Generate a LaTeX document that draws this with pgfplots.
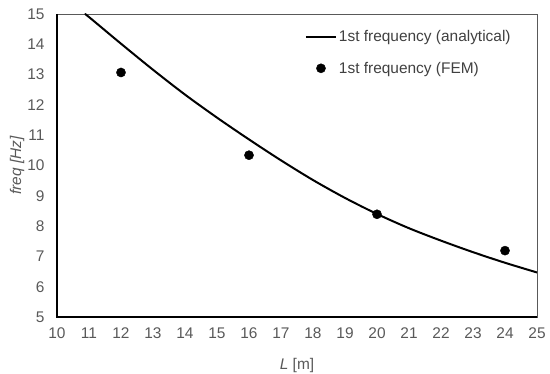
\documentclass[border=0pt]{standalone}
\usepackage{pgfplots}
\pgfplotsset{compat=1.18}
\usepackage{fontspec}
\setmainfont{Liberation Sans}
\definecolor{tickgray}{HTML}{595959}
\definecolor{framegray}{HTML}{595959}
\definecolor{leggray}{HTML}{404040}
\begin{document}
\begin{tikzpicture}
\useasboundingbox (-57bp,-57bp) rectangle (493bp,317bp);
\begin{axis}[
 name=ax,
 at={(0,0)}, anchor=south west,
 scale only axis, width=480bp, height=303bp,
 xmin=10, xmax=25, ymin=5, ymax=15,
 xtick={10,11,...,25}, ytick={5,6,...,15},
 major tick length=0pt,
 tick style={draw=none},
 axis line style={draw=framegray, line width=0.9pt},
 ticklabel style={font=\fontsize{15.5}{18}\selectfont, text=tickgray},
 xticklabel style={yshift=-7bp},
 yticklabel style={xshift=-9bp},
 /pgf/number format/assume math mode=true,
 xlabel={\textit{L} [m]}, ylabel={\textit{freq [Hz]}},
 xlabel style={at={(axis description cs:0.5,-0.16)}, anchor=center},
 ylabel style={at={(axis description cs:-0.083,0.5)}, anchor=center},
 label style={font=\fontsize{15.5}{18}\selectfont, text=tickgray},
 clip mode=individual,
 legend style={at={(axis description cs:0.51,0.96)}, anchor=north west, draw=none, fill=none,
   font=\fontsize{15.5}{18}\selectfont, text=leggray, row sep=15bp},
 legend cell align=left,
 legend image code/.code={\draw[mark repeat=2,mark phase=2,#1] plot coordinates {(0bp,0bp) (15bp,0bp) (30bp,0bp)};},
]
\addplot[black, line width=2pt, smooth] coordinates {
 (10.87,15.00) (11,14.90) (12,14.02) (13,13.16) (14,12.34) (15,11.58) (16,10.86)
 (17,10.17) (18,9.52) (19,8.93) (20,8.40) (21,7.93) (22,7.52) (23,7.14) (24,6.79) (25,6.47)};
\addlegendentry{1st frequency (analytical)}
\addplot[only marks, mark=*, mark size=4.6pt, black] coordinates {(12,13.07) (16,10.34) (20,8.39) (24,7.19)};
\addlegendentry{1st frequency (FEM)}
\end{axis}
\draw[black, line width=1.2pt] (ax.north west) -- (ax.south west) -- (ax.south east);
\end{tikzpicture}
\end{document}
